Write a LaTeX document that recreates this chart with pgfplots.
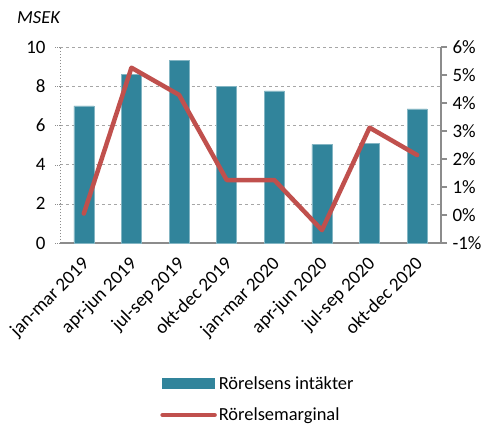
\documentclass[border=0pt]{standalone}
\usepackage{pgfplots}
\pgfplotsset{compat=1.18}
\usepackage{fontspec}
\setmainfont{Carlito}
\definecolor{barc}{HTML}{31849B}
\definecolor{linec}{HTML}{C0504D}
\definecolor{axc}{HTML}{8C8C8C}
\begin{document}
\begin{tikzpicture}[font=\fontsize{19}{22}\selectfont]
\begin{axis}[
  name=ax,
  scale only axis, width=381bp, height=196bp,
  xmin=-0.5, xmax=7.5, ymin=0, ymax=10,
  ytick={0,2,4,6,8,10},
  xtick={0,...,7},
  xticklabels={jan-mar 2019,apr-jun 2019,jul-sep 2019,okt-dec 2019,jan-mar 2020,apr-jun 2020,jul-sep 2020,okt-dec 2020},
  x tick label style={xshift=-3bp, yshift=-6bp, rotate=45, anchor=north east, inner sep=1bp},
  axis y line*=left, axis x line*=bottom,
  x axis line style={draw=axc, line width=1.2pt, -},
  y axis line style={draw=axc, dotted, line width=1pt, -},
  major x tick style={draw=none},
  major y tick style={draw=axc, dotted},
  tick align=outside, major tick length=5bp,
  ymajorgrids, grid style={draw=gray!70, dashed, line width=0.5pt},
  /pgf/number format/assume math mode=true,
  yticklabel style={xshift=-6bp},
  clip=false,
]
\addplot[ybar, bar width=20bp, fill=barc, draw=barc!60!white, line width=0.5pt] coordinates {
(0,7.0) (1,8.6) (2,9.3) (3,8.0) (4,7.76) (5,5.03) (6,5.07) (7,6.84)};
\node[anchor=west, inner sep=0pt, font=\fontsize{18.5}{20}\selectfont\itshape] at (rel axis cs:0,1) [xshift=-43bp, yshift=29bp] {MSEK};
\end{axis}
\begin{axis}[
  scale only axis, width=381bp, height=196bp,
  xmin=-0.5, xmax=7.5, ymin=-1, ymax=6,
  ytick={-1,0,1,2,3,4,5,6},
  yticklabels={-1\%,0\%,1\%,2\%,3\%,4\%,5\%,6\%},
  axis y line*=right, axis x line=none,
  y axis line style={draw=axc, line width=1.2pt, -},
  major y tick style={draw=axc, line width=1.2pt},
  tick align=outside, major tick length=6bp,
  yticklabel style={xshift=2bp},
  legend style={at={(0.255,-0.66)}, anchor=north west, draw=none, fill=none,
    legend cell align=left, row sep=13bp, font=\fontsize{18.5}{21}\selectfont},
  clip=false,
]
\addlegendimage{legend image code/.code={\fill[barc] (0bp,-5bp) rectangle (52bp,5bp);}}
\addlegendentry{Rörelsens intäkter}
\addplot[linec, line width=4.5bp, line join=round, line cap=round,
  legend image code/.code={\draw[linec, line width=4.5bp, line cap=round] (0bp,0bp) -- (52bp,0bp);}] coordinates {
(0,0.05) (1,5.26) (2,4.29) (3,1.25) (4,1.25) (5,-0.54) (6,3.12) (7,2.14)};
\addlegendentry{Rörelsemarginal}
\end{axis}
\pgfresetboundingbox
\path ([xshift=-60bp,yshift=-183bp]ax.south west) rectangle ([xshift=51bp,yshift=47bp]ax.north east);
\end{tikzpicture}
\end{document}
